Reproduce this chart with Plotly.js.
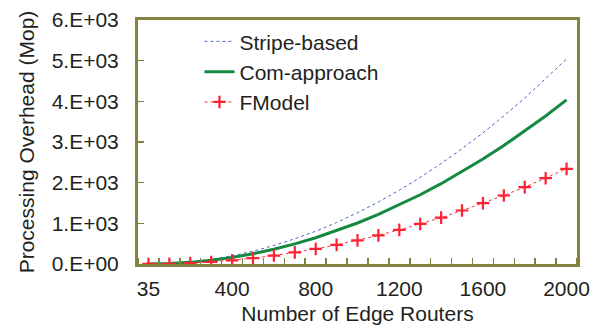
<!DOCTYPE html>
<html>
<head>
<meta charset="utf-8">
<script src="https://cdn.plot.ly/plotly-3.0.1.min.js"></script>
<style>html,body{margin:0;padding:0;background:#fff;}#chart{width:603px;height:336px;}</style>
</head>
<body>
<div id="chart"></div>
<script>
// Categories: number of edge routers
var routers = ['35','100','200','300','400','500','600','700','800','900','1000',
               '1100','1200','1300','1400','1500','1600','1700','1800','1900','2000'];
var xTickLabels = ['35','400','800','1200','1600','2000'];
var stripeBased = [2,13,50,113,200,315,455,620,805,1020,1260,1525,1815,2130,2470,2835,3225,3640,4080,4550,5040];
var comApproach = [1,10,40,90,160,252,363,494,645,817,1008,1220,1452,1703,1975,2268,2580,2913,3266,3640,4035];
var fModel      = [1,6,23,50,90,145,208,285,370,470,580,705,840,985,1140,1315,1495,1685,1890,2110,2340];
var yTickVals   = [0,1000,2000,3000,4000,5000,6000];
var yTickText   = ['0.E+00','1.E+03','2.E+03','3.E+03','4.E+03','5.E+03','6.E+03'];

var xIdx = routers.map(function(_, i){ return i; });
var xTickVals = xTickLabels.map(function(l){ return routers.indexOf(l); });

var olive = '#83833f';
var font = {family: 'Liberation Sans, Arial, sans-serif', size: 21, color: '#231f20'};

var traces = [
  {x: xIdx, y: stripeBased, name: 'Stripe-based', mode: 'lines',
   line: {color: '#4a64c8', width: 1, dash: 'dot'}},
  {x: xIdx, y: comApproach, name: 'Com-approach', mode: 'lines',
   line: {color: '#138a40', width: 3}},
  {x: xIdx, y: fModel, name: 'FModel', mode: 'lines+markers',
   line: {color: '#ff3040', width: 1, dash: 'dot'},
   marker: {symbol: 'cross-thin', size: 9, line: {color: '#ff2030', width: 2.2}}}
];

var layout = {
  width: 603, height: 336,
  margin: {l: 138, r: 26, t: 20, b: 72},
  paper_bgcolor: '#ffffff', plot_bgcolor: '#ffffff',
  font: font,
  showlegend: true,
  legend: {x: 0.14, y: 0.995, xanchor: 'left', yanchor: 'top',
           bgcolor: 'rgba(0,0,0,0)', font: font, tracegroupgap: 0},
  xaxis: {
    range: [-0.5, routers.length - 0.5],
    tickmode: 'array', tickvals: xTickVals, ticktext: xTickLabels,
    ticks: '', showgrid: false, zeroline: false,
    showline: true, mirror: true, linecolor: olive, linewidth: 3,
    ticklabelstandoff: 4,
    minor: {tick0: -0.5, dtick: 1, ticks: 'inside', ticklen: 6, tickcolor: olive, tickwidth: 1.5, showgrid: false},
    title: {text: 'Number of Edge Routers', font: font, standoff: 8},
    fixedrange: true
  },
  yaxis: {
    range: [0, 6000],
    tickmode: 'array', tickvals: yTickVals, ticktext: yTickText,
    ticks: 'inside', ticklen: 6, tickcolor: olive, tickwidth: 1.5,
    showgrid: false, zeroline: false,
    showline: true, mirror: true, linecolor: olive, linewidth: 3,
    ticklabelstandoff: 12,
    title: {text: 'Processing Overhead (Mop)', font: font, standoff: 12},
    fixedrange: true
  }
};

Plotly.newPlot('chart', traces, layout, {displayModeBar: false, staticPlot: true});
</script>
</body>
</html>
